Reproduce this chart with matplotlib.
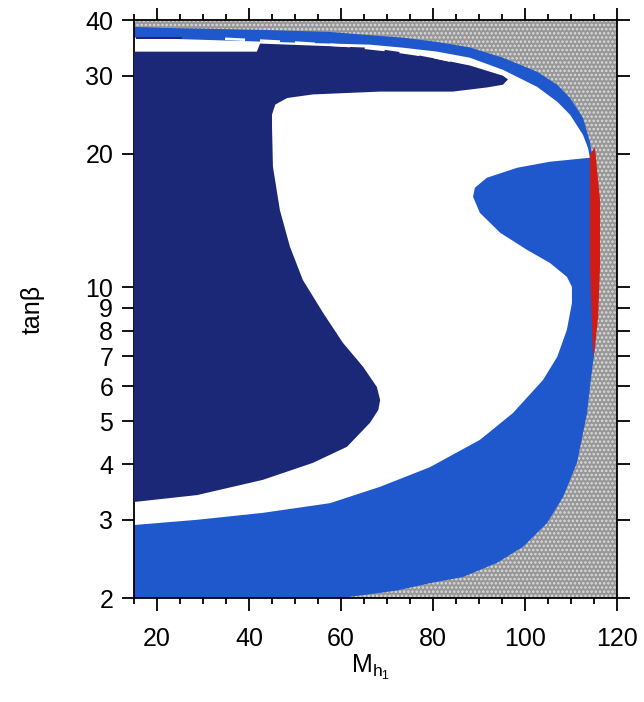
import matplotlib
matplotlib.use("Agg")
import matplotlib.pyplot as plt
from matplotlib.ticker import FixedLocator, MultipleLocator, NullLocator

plt.rcParams['font.family'] = ['Liberation Sans', 'DejaVu Sans']
plt.rcParams['mathtext.fontset'] = 'custom'
plt.rcParams['mathtext.rm'] = 'Liberation Sans'
plt.rcParams['mathtext.it'] = 'Liberation Sans:italic'
plt.rcParams['hatch.linewidth'] = 1.2

# axis range
x_min, x_max = 15, 120
t_min, t_max = 2, 40

# boundary of the allowed region (blue / grey edge)
outer_x = [15, 21.3, 43.0, 57.6, 67.4, 73.5, 80.9, 88.0, 95.2, 102.6, 107.0, 109.8,
           112.6, 114.1, 114.6, 115.9, 115.9, 115.2, 114.3, 113.5, 111.3, 108.3,
           104.8, 99.6, 93.9, 86.5, 79.3, 72.2, 64.8, 59.8, 15]
outer_t = [38.6, 38.4, 38.0, 37.6, 36.9, 36.5, 35.7, 34.7, 32.9, 30.6, 28.6, 26.7,
           24.1, 21.3, 19.9, 15.75, 9.38, 7.3, 6.19, 5.22, 4.03, 3.38,
           2.95, 2.61, 2.40, 2.23, 2.16, 2.08, 2.03, 2.0, 2.0]

# white (excluded) region inside the blue band
white_x = [15, 28.7, 43.0, 57.6, 68.5, 79.3, 90.2, 97.4, 103.9, 107.0, 109.1, 110.2,
           110.2, 109.1, 105.4, 100.4, 94.6, 90.2, 88.7, 89.1, 91.7, 98.3, 105.4,
           114.1, 113.7, 112.6, 109.8, 107.0, 102.6, 95.2, 88.0, 80.9, 73.5, 66.3,
           43.0, 15]
white_t = [2.92, 3.00, 3.11, 3.27, 3.56, 3.94, 4.54, 5.22, 6.19, 6.98, 8.03, 9.23,
           10.03, 10.57, 11.36, 12.16, 13.28, 14.72, 16.0, 16.77, 17.66, 18.6, 19.19,
           19.59, 20.6, 22.06, 24.48, 26.19, 28.3, 30.9, 32.9, 33.95, 34.65, 35.2,
           35.75, 36.5]

# dark blue region
navy_x = [15, 41.7, 42.4, 66.3, 73.5, 80.9, 88.0, 95.2, 96.3, 95.2, 91.7, 84.3,
          68.5, 53.9, 48.3, 45.7, 45.0, 45.0, 45.2, 46.7, 48.9, 51.7, 56.1, 60.4,
          64.8, 67.8, 68.5, 68.1, 66.3, 61.3, 53.9, 43.0, 28.7, 15]
navy_t = [33.95, 33.95, 35.4, 34.65, 33.8, 32.7, 31.6, 29.97, 29.4, 28.6, 28.2, 27.6,
          27.6, 27.2, 26.7, 25.8, 24.5, 23.0, 18.7, 14.95, 12.35, 10.4, 8.77, 7.51,
          6.63, 5.97, 5.58, 5.30, 4.96, 4.38, 4.03, 3.69, 3.41, 3.29]

# thin dark strip at top left
strip_x = [15.5, 25.4]
strip_lo = [36.3, 36.3]
strip_hi = [36.7, 36.7]

# white dashes along the upper edge of the dark region
dash_x = [34.8, 47.2, 61.1, 71.1, 79.6, 83.7]
dash_t = [36.3, 35.75, 35.0, 34.1, 33.1, 32.4]

# red strip on the right
red_x = [114.1, 114.1, 114.6, 114.8, 115.2, 115.9, 116.3, 116.3, 115.2]
red_t = [19.9, 11.13, 7.91, 6.98, 7.35, 8.59, 11.13, 15.75, 20.7]

x_major = [20, 40, 60, 80, 100, 120]
y_ticks = [2, 3, 4, 5, 6, 7, 8, 9, 10, 20, 30, 40]

navy = "#1b2877"
blue = "#1f58cc"
red = "#d01c16"

fig = plt.figure(figsize=(6.44, 7.02), dpi=100)
ax = fig.add_axes([0.2081, 0.1481, 0.75, 0.8234])
ax.set_yscale('log')

# grey speckled background
ax.axvspan(x_min, x_max, facecolor="#979797", edgecolor="#dcdcdc",
           hatch="....", linewidth=0, zorder=0)
ax.fill(outer_x, outer_t, color=blue, lw=0, zorder=1)
ax.fill(white_x, white_t, color="white", lw=0, zorder=2)
ax.fill(navy_x, navy_t, color=navy, lw=0, zorder=3)
ax.fill_between(strip_x, strip_lo, strip_hi, color=navy, lw=0, zorder=3)
ax.plot(dash_x, dash_t, color="white", lw=1.8, ls=(0, (8, 6)), zorder=4)
ax.fill(red_x, red_t, color=red, lw=0, zorder=4)

ax.set_xlim(x_min, x_max)
ax.set_ylim(t_min, t_max)

ax.xaxis.set_major_locator(FixedLocator(x_major))
ax.xaxis.set_minor_locator(MultipleLocator(5))
ax.yaxis.set_major_locator(FixedLocator(y_ticks))
ax.yaxis.set_minor_locator(NullLocator())
ax.set_yticklabels([str(v) for v in y_ticks])

ax.tick_params(which='both', direction='out', top=True, right=True,
               width=1.3, labelsize=18)
ax.tick_params(which='major', length=9)
ax.tick_params(which='minor', length=4.5)
ax.tick_params(axis='x', which='major', pad=12)
ax.tick_params(axis='y', which='major', pad=6)
for sp in ax.spines.values():
    sp.set_linewidth(1.3)

ax.set_xlabel(r'$\mathregular{M_{h_1}}$', fontsize=18)
ax.set_ylabel(u'tan\u03b2', fontsize=18)
ax.xaxis.set_label_coords(0.49, -0.095)
ax.yaxis.set_label_coords(-0.185, 0.5)

plt.savefig("out.png", dpi=100)
